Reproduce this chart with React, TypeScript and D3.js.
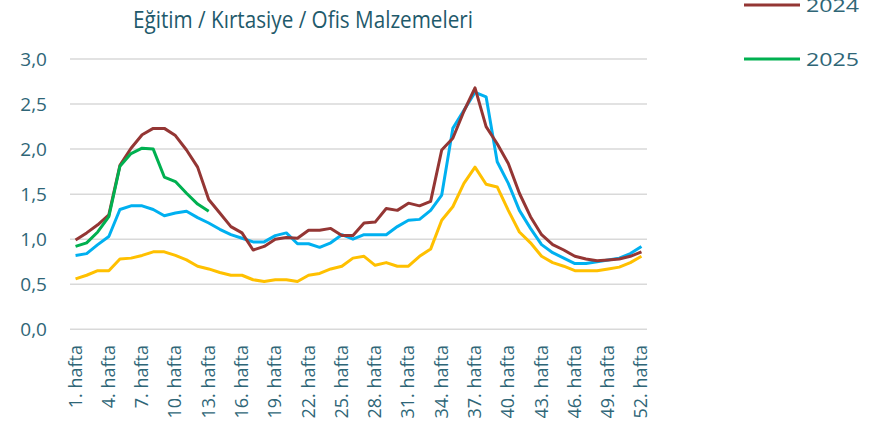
import React from 'react';
import * as d3 from 'd3';

const weeks = d3.range(1, 53);
const weekTicks = weeks.filter(w => (w - 1) % 3 === 0);
const yTicks = [0, 0.5, 1, 1.5, 2, 2.5, 3];

const s2022 = [0.56, 0.60, 0.65, 0.65, 0.78, 0.79, 0.82, 0.86, 0.86, 0.82, 0.77, 0.70, 0.67, 0.63, 0.60, 0.60, 0.55, 0.53, 0.55, 0.55, 0.53, 0.60, 0.62, 0.67, 0.70, 0.79, 0.81, 0.71, 0.74, 0.70, 0.70, 0.81, 0.89, 1.21, 1.36, 1.62, 1.80, 1.61, 1.58, 1.32, 1.08, 0.96, 0.81, 0.74, 0.70, 0.65, 0.65, 0.65, 0.67, 0.69, 0.74, 0.81];
const s2023 = [0.82, 0.84, 0.94, 1.03, 1.33, 1.37, 1.37, 1.33, 1.26, 1.29, 1.31, 1.24, 1.18, 1.11, 1.05, 1.01, 0.97, 0.97, 1.04, 1.07, 0.95, 0.95, 0.91, 0.96, 1.05, 1.00, 1.05, 1.05, 1.05, 1.14, 1.21, 1.22, 1.32, 1.49, 2.23, 2.43, 2.63, 2.58, 1.86, 1.62, 1.32, 1.12, 0.94, 0.85, 0.79, 0.73, 0.73, 0.75, 0.77, 0.79, 0.84, 0.92];
const s2024 = [0.99, 1.07, 1.16, 1.27, 1.82, 2.01, 2.16, 2.23, 2.23, 2.15, 1.99, 1.80, 1.44, 1.29, 1.14, 1.07, 0.88, 0.92, 1.00, 1.02, 1.01, 1.10, 1.10, 1.12, 1.04, 1.04, 1.18, 1.19, 1.34, 1.32, 1.40, 1.37, 1.42, 1.99, 2.12, 2.42, 2.68, 2.25, 2.06, 1.84, 1.51, 1.25, 1.05, 0.94, 0.88, 0.81, 0.78, 0.76, 0.77, 0.78, 0.81, 0.86];
const s2025 = [0.92, 0.96, 1.08, 1.25, 1.81, 1.95, 2.01, 2.00, 1.69, 1.64, 1.51, 1.39, 1.31];

const series = [
  { name: '2022', color: '#FFC000', values: s2022 },
  { name: '2023', color: '#00B0F0', values: s2023 },
  { name: '2024', color: '#943634', values: s2024 },
  { name: '2025', color: '#00B050', values: s2025 },
];

const W = 885;
const H = 430;
const left = 70;
const right = 647;
const top = 59;
const bottom = 329.3;

export default function App() {
  const x = d3.scaleBand<number>().domain(weeks).range([left, right]).padding(0);
  const y = d3.scaleLinear().domain([0, 3]).range([bottom, top]);
  const cx = (w: number) => (x(w) ?? 0) + x.bandwidth() / 2;
  const fmt = (v: number) => d3.format('.1f')(v).replace('.', ',');

  const line = d3.line<number>()
    .x((d, i) => cx(weeks[i]))
    .y(d => y(d));

  // legend: newest at bottom, older entries run off the top
  const legendY = (i: number) => 59 - (series.length - 1 - i) * 54;

  return (
    <svg width={W} height={H} style={{ position: 'absolute', left: 0, top: 0, display: 'block', background: '#fff' }}>
      <text x={303} y={28} textAnchor="middle" fontFamily="'Open Sans', sans-serif" fontSize={24}
        fill="#1f5a6b" textLength={340} lengthAdjust="spacingAndGlyphs">
        Eğitim / Kırtasiye / Ofis Malzemeleri
      </text>

      {yTicks.map(t => (
        <g key={t}>
          <line x1={left} x2={right} y1={y(t)} y2={y(t)} stroke="#d9d9d9" strokeWidth={1.5} />
          <text x={47} y={y(t)} dy="0.35em" textAnchor="end" fontFamily="'Open Sans', sans-serif"
            fontSize={19} fill="#2f6677">{fmt(t)}</text>
        </g>
      ))}

      {weekTicks.map(w => (
        <text key={w} transform={`translate(${cx(w) + 6},345) rotate(-90)`} textAnchor="end"
          fontFamily="'Open Sans', sans-serif" fontSize={18} fill="#2f6677">{`${w}. hafta`}</text>
      ))}

      {series.map(s => (
        <path key={s.name} d={line(s.values) ?? ''} fill="none" stroke={s.color} strokeWidth={3}
          strokeLinejoin="round" />
      ))}

      {series.map((s, i) => {
        const ly = legendY(i);
        if (ly < -10) return null;
        return (
          <g key={s.name}>
            <line x1={744} x2={800} y1={ly} y2={ly} stroke={s.color} strokeWidth={3} />
            <text x={806} y={ly} dy="0.35em" fontFamily="'Open Sans', sans-serif" fontSize={19}
              fill="#2f6677" textLength={53} lengthAdjust="spacingAndGlyphs">{s.name}</text>
          </g>
        );
      })}
    </svg>
  );
}
